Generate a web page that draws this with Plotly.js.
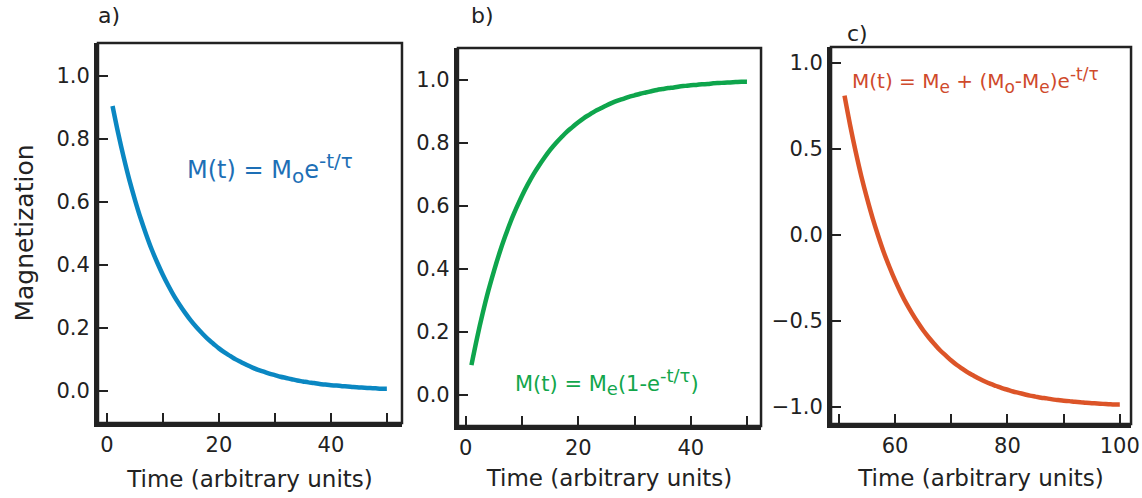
<!DOCTYPE html>
<html>
<head>
<meta charset="utf-8">
<script src="https://cdn.plot.ly/plotly-3.0.1.min.js"></script>
<style>html,body{margin:0;padding:0;background:#fff;}#chart{width:1142px;height:498px;}</style>
</head>
<body>
<div id="chart"></div>
<script>
// ---- data ----
const timeAB = [1,2,3,4,5,6,7,8,9,10,11,12,13,14,15,16,17,18,19,20,21,22,23,24,25,26,27,28,29,30,31,32,33,34,35,36,37,38,39,40,41,42,43,44,45,46,47,48,49,50];
const decayA = [0.905,0.819,0.741,0.670,0.607,0.549,0.497,0.449,0.407,0.368,0.333,0.301,0.273,0.247,0.223,0.202,0.183,0.165,0.150,0.135,0.122,0.111,0.100,0.091,0.082,0.074,0.067,0.061,0.055,0.050,0.045,0.041,0.037,0.033,0.030,0.027,0.025,0.022,0.020,0.018,0.017,0.015,0.014,0.012,0.011,0.010,0.009,0.008,0.007,0.007];
const growthB = [0.095,0.181,0.259,0.330,0.393,0.451,0.503,0.551,0.593,0.632,0.667,0.699,0.727,0.753,0.777,0.798,0.817,0.835,0.850,0.865,0.878,0.889,0.900,0.909,0.918,0.926,0.933,0.939,0.945,0.950,0.955,0.959,0.963,0.967,0.970,0.973,0.975,0.978,0.980,0.982,0.983,0.985,0.986,0.988,0.989,0.990,0.991,0.992,0.993,0.993];
const timeC = [51,52,53,54,55,56,57,58,59,60,61,62,63,64,65,66,67,68,69,70,71,72,73,74,75,76,77,78,79,80,81,82,83,84,85,86,87,88,89,90,91,92,93,94,95,96,97,98,99,100];
const relaxC = [0.810,0.638,0.482,0.340,0.214,0.098,-0.006,-0.102,-0.186,-0.264,-0.334,-0.398,-0.454,-0.506,-0.554,-0.596,-0.634,-0.670,-0.700,-0.730,-0.756,-0.778,-0.800,-0.818,-0.836,-0.852,-0.866,-0.878,-0.890,-0.900,-0.910,-0.918,-0.926,-0.934,-0.940,-0.946,-0.950,-0.956,-0.960,-0.964,-0.966,-0.970,-0.972,-0.976,-0.978,-0.980,-0.982,-0.984,-0.986,-0.986];

const yTicksAB = [0,0.2,0.4,0.6,0.8,1.0];
const yTextAB = ['0.0','0.2','0.4','0.6','0.8','1.0'];
const yTicksC = [-1.0,-0.5,0,0.5,1.0];
const yTextC = ['\u22121.0','\u22120.5','0.0','0.5','1.0'];

const xTitle = 'Time (arbitrary units)';
const yTitle = 'Magnetization';

// ---- styling ----
const FONT = 'DejaVu Sans';
const blue = '#0a87c2', green = '#0ea54c', red = '#dc5428';

function sub(t, px) { return '<sub><span style="font-size:' + px + 'px">' + t + '</span></sub>'; }
function sup(t, px) { return '<sup><span style="font-size:' + px + 'px">' + t + '</span></sup>'; }
const eqA = 'M(t) = M' + sub('o', 20) + 'e' + sup('-t/\u03c4', 20);
const eqB = 'M(t) = M' + sub('e', 18) + '(1-e' + sup('-t/\u03c4', 18) + ')';
const eqC = 'M(t) = M' + sub('e', 17) + ' + (M' + sub('o', 17) + '-M' + sub('e', 17) + ')e' + sup('-t/\u03c4', 17);

function xaxis(domain, range, anchor, standoff) {
  return {
    domain: domain, range: range, anchor: anchor,
    tickmode: 'linear', tick0: 0, dtick: 20,
    ticks: 'inside', ticklen: 10, tickwidth: 2, tickcolor: '#222',
    minor: {dtick: 10, tick0: 0, ticks: 'inside', ticklen: 10, tickwidth: 2, tickcolor: '#222', showgrid: false},
    showline: true, linewidth: 4, linecolor: '#222', mirror: false,
    showgrid: false, zeroline: false,
    tickfont: {family: FONT, size: 21, color: '#222'},
    title: {text: xTitle, font: {family: FONT, size: 23, color: '#222'}, standoff: standoff},
    fixedrange: true
  };
}
function yaxis(domain, range, vals, text, anchor, title) {
  const a = {
    domain: domain, range: range, anchor: anchor,
    tickmode: 'array', tickvals: vals, ticktext: text,
    ticks: 'inside', ticklen: 10, tickwidth: 2, tickcolor: '#222',
    showline: true, linewidth: 4, linecolor: '#222', mirror: false,
    showgrid: false, zeroline: false,
    tickfont: {family: FONT, size: 21, color: '#222'},
    fixedrange: true
  };
  if (title) a.title = {text: title, font: {family: FONT, size: 25, color: '#222'}, standoff: 17};
  return a;
}

const traces = [
  {x: timeAB, y: decayA, xaxis: 'x', yaxis: 'y', mode: 'lines', line: {color: blue, width: 4.5, shape: 'spline'}, hoverinfo: 'skip'},
  {x: timeAB, y: growthB, xaxis: 'x2', yaxis: 'y2', mode: 'lines', line: {color: green, width: 4.5, shape: 'spline'}, hoverinfo: 'skip'},
  {x: timeC, y: relaxC, xaxis: 'x3', yaxis: 'y3', mode: 'lines', line: {color: red, width: 4.5, shape: 'spline'}, hoverinfo: 'skip'}
];

function frame(xr, yr) {
  return {type: 'rect', xref: xr + ' domain', yref: yr + ' domain', x0: 0, x1: 1, y0: 0, y1: 1, line: {color: '#222', width: 2.5}, layer: 'above'};
}

const layout = {
  width: 1142, height: 498,
  margin: {l: 0, r: 0, t: 0, b: 0},
  paper_bgcolor: '#fff', plot_bgcolor: '#fff',
  showlegend: false,
  font: {family: FONT, color: '#222'},
  xaxis: xaxis([0.0858, 0.352], [-1.6, 52.7], 'y', 16),
  yaxis: yaxis([0.1506, 0.9137], [-0.102, 1.105], yTicksAB, yTextAB, 'x', yTitle),
  xaxis2: xaxis([0.401, 0.6664], [-1.4, 52.5], 'y2', 12),
  yaxis2: yaxis([0.1446, 0.9036], [-0.098, 1.10], yTicksAB, yTextAB, 'x2', null),
  xaxis3: xaxis([0.7277, 0.9904], [48.6, 102], 'y3', 14),
  yaxis3: yaxis([0.1486, 0.9056], [-1.099, 1.093], yTicksC, yTextC, 'x3', null),
  shapes: [frame('x', 'y'), frame('x2', 'y2'), frame('x3', 'y3')],
  annotations: [
    {xref: 'paper', yref: 'paper', x: 96/1142, y: 1 - 16/498, xanchor: 'left', yanchor: 'middle', text: 'a)', showarrow: false, font: {family: FONT, size: 22, color: '#222'}},
    {xref: 'paper', yref: 'paper', x: 469/1142, y: 1 - 16/498, xanchor: 'left', yanchor: 'middle', text: 'b)', showarrow: false, font: {family: FONT, size: 22, color: '#222'}},
    {xref: 'paper', yref: 'paper', x: 845/1142, y: 1 - 33/498, xanchor: 'left', yanchor: 'middle', text: 'c)', showarrow: false, font: {family: FONT, size: 22, color: '#222'}},
    {xref: 'paper', yref: 'paper', x: 185/1142, y: 1 - 168/498, xanchor: 'left', yanchor: 'middle', text: eqA, showarrow: false, font: {family: FONT, size: 24, color: '#1d6fb6'}},
    {xref: 'paper', yref: 'paper', x: 513/1142, y: 1 - 382/498, xanchor: 'left', yanchor: 'middle', text: eqB, showarrow: false, font: {family: FONT, size: 21, color: '#12a64b'}},
    {xref: 'paper', yref: 'paper', x: 850/1142, y: 1 - 80/498, xanchor: 'left', yanchor: 'middle', text: eqC, showarrow: false, font: {family: FONT, size: 20, color: '#cf4a2c'}}
  ]
};

Plotly.newPlot('chart', traces, layout, {displayModeBar: false, staticPlot: true});
</script>
</body>
</html>
